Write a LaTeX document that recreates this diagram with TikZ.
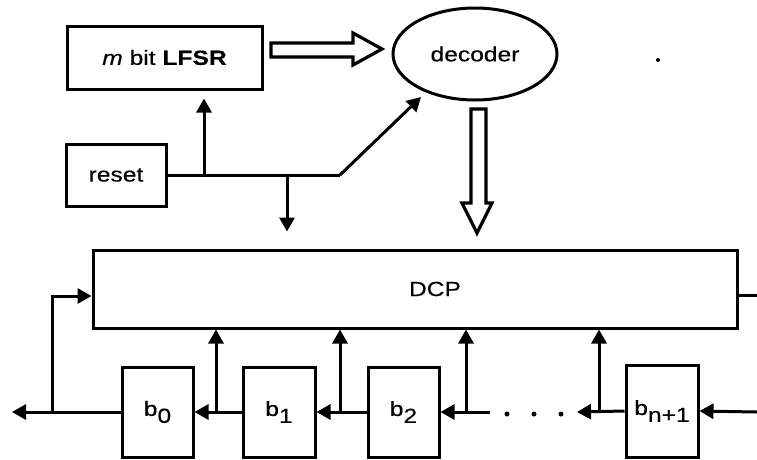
\documentclass[tikz,border=0pt]{standalone}
\usepackage{fontspec}
\usepackage{graphicx}
\setmainfont{Liberation Sans}[FakeBold=0.3]
\usetikzlibrary{arrows.meta,shapes.geometric}
\newcommand{\wtxt}[1]{\scalebox{1.2}[1]{#1}}
\newcommand{\bsub}[1]{\wtxt{b\raisebox{-7pt}{#1}}}
\tikzset{
  blk/.style={draw, line width=3pt, rectangle, inner sep=0pt},
  lbl/.style={font=\fontsize{20.5}{22}\selectfont, inner sep=0pt},
  wire/.style={line width=3pt},
  arr/.style={line width=3pt, -{Triangle[length=14pt,width=15pt]}},
  hollow/.style={draw, line width=3.2pt, line join=miter, fill=white},
  dotmark/.style={fill, circle, inner sep=0pt, minimum size=5pt}
}
\begin{document}
\begin{tikzpicture}[x=1pt, y=-1pt]
\useasboundingbox (0,0) rectangle (757,459);
% top blocks
\node[blk, lbl, minimum width=195pt, minimum height=63pt] (lfsr) at (164.5,57.5)
  {\wtxt{\textit{m} bit \textbf{LFSR}}};
\node[blk, lbl, minimum width=100pt, minimum height=62pt] (reset) at (116,175) {\wtxt{reset}};
\node[draw, ellipse, line width=3pt, lbl, minimum width=164pt, minimum height=92pt] (dec) at (475,54) {\wtxt{decoder}};
\node[dotmark, minimum size=4pt] (stray) at (658,60) {};
% DCP
\node[blk, minimum width=644pt, minimum height=78pt] (dcp) at (415,289) {};
\node[lbl] (dcptext) at (435,289) {\wtxt{DCP}};
% bit cells
\node[blk, lbl, minimum width=71pt, minimum height=90pt] (b0) at (157.5,412) {\bsub{0}};
\node[blk, lbl, minimum width=72pt, minimum height=90pt] (b1) at (279,412) {\bsub{1}};
\node[blk, lbl, minimum width=71pt, minimum height=90pt] (b2) at (403.5,412) {\bsub{2}};
\node[blk, lbl, minimum width=72pt, minimum height=92pt] (bn) at (662,411) {\bsub{n+1}};
% hollow arrows
\draw[hollow] (271,43) -- (353,43) -- (353,33) -- (382,49) -- (353,65) -- (353,57) -- (271,57) -- cycle;
\draw[hollow] (471,109) -- (486,109) -- (486,203) -- (492,203) -- (477,233) -- (462,203) -- (471,203) -- cycle;
% reset wiring
\coordinate (rk) at (340,175);
\coordinate (rtip) at (421,97);
\coordinate (ru) at (204,175);
\coordinate (rd) at (287,175);
\draw[wire] (reset.east) -- (rk);
\draw[arr] (rk) -- (rtip);
\draw[arr, shorten >=8pt] (ru) -- (ru |- lfsr.south);
\draw[arr, shorten >=17pt] (rd) -- (rd |- dcp.north);
% DCP output
\coordinate (dout) at (757,295);
\draw[wire] (dcp.east |- dout) -- (dout);
% bottom chain
\coordinate (lout) at (12,412);
\coordinate (fb) at (52,412);
\draw[arr] (b0.west) -- (lout);
\draw[arr] (fb) |- ([yshift=-7pt]dcp.west);
\draw[arr] (b1.west) -- (b0.east);
\draw[arr] (b2.west) -- (b1.east);
\coordinate (t1) at (216,412);
\coordinate (t2) at (340,412);
\coordinate (t3) at (466,412);
\coordinate (t4) at (599,412);
\foreach \t in {t1,t2,t3,t4} {\draw[arr] (\t) -- (\t |- dcp.south);}
\coordinate (dl) at (490,412);
\coordinate (dr) at (577,412);
\draw[arr] (dl) -- (b2.east);
\draw[arr] (bn.west) -- (dr);
\coordinate (rin) at (757,412);
\draw[arr] (rin) -- (bn.east);
\node[dotmark] (d1) at (507,414) {};
\node[dotmark] (d2) at (534,414) {};
\node[dotmark] (d3) at (561,414) {};
\end{tikzpicture}
\end{document}
